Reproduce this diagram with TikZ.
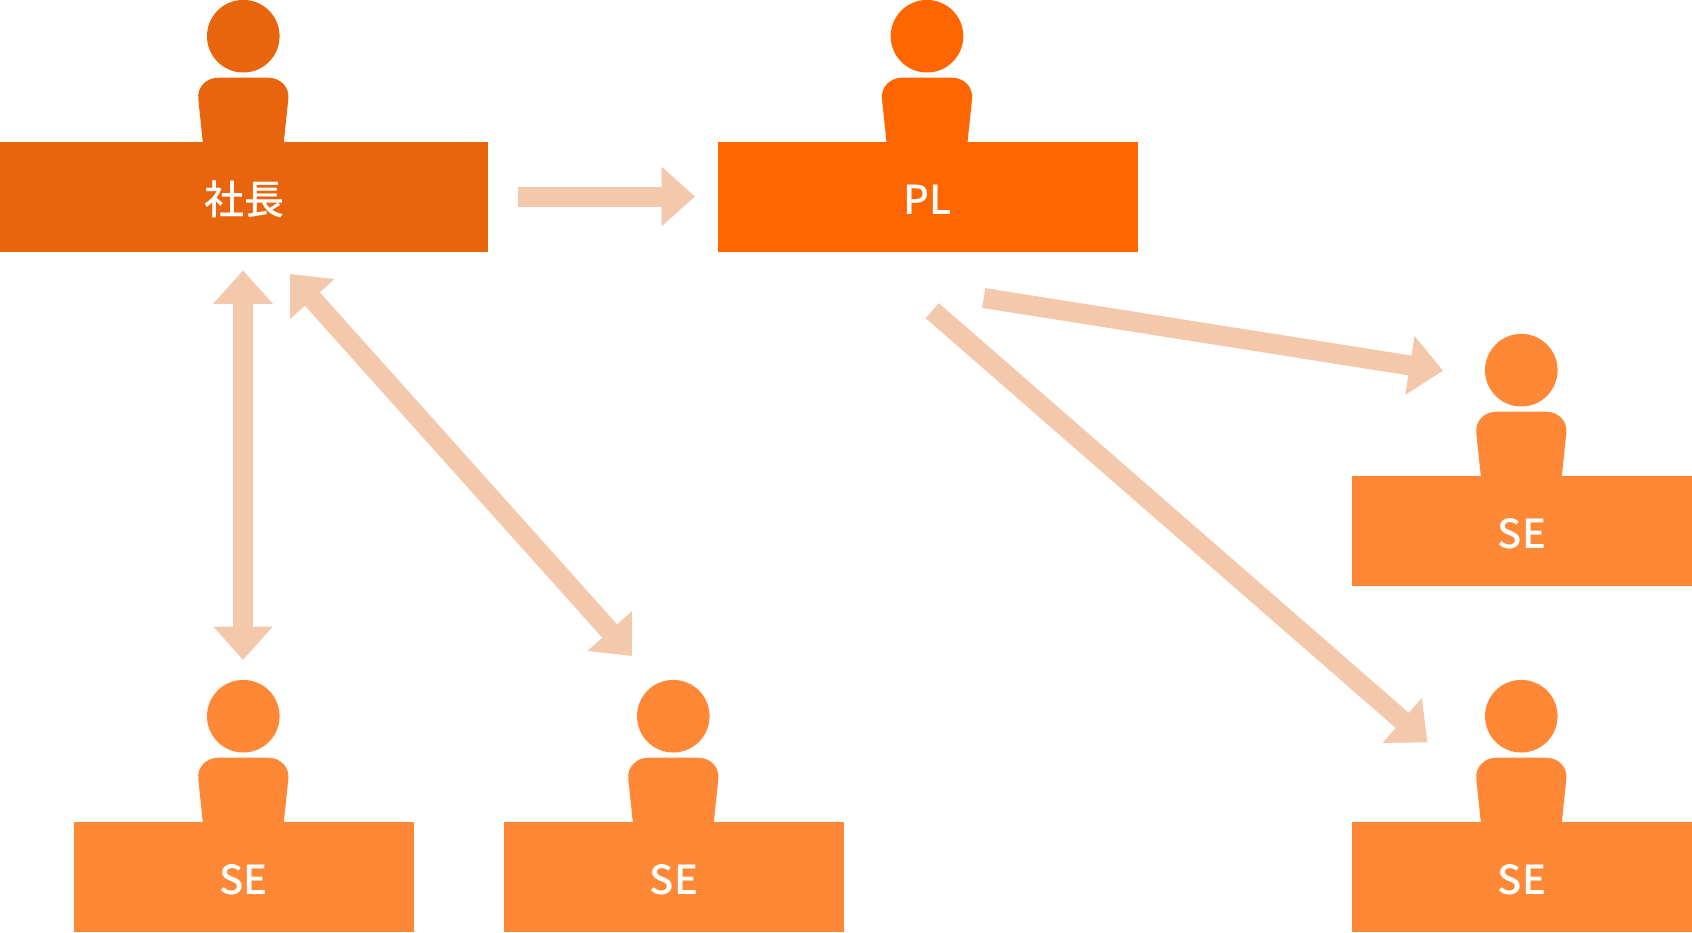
\documentclass[tikz,border=0pt]{standalone}
\usepackage{fontspec}
\setmainfont{Noto Sans CJK JP}[UprightFont=* Medium]
\usetikzlibrary{arrows.meta}
\definecolor{presc}{HTML}{E8650E}
\definecolor{plc}{HTML}{FF6600}
\definecolor{sec}{HTML}{FF8837}
\definecolor{arrc}{HTML}{F4C9AB}
\tikzset{
  x=1pt,y=-1pt,
  head/.style={circle,inner sep=0pt,minimum size=72.6pt,fill=#1},
  desk/.style={rectangle,inner sep=0pt,minimum height=109.8pt,fill=#1,text=white,
    font=\fontsize{40}{48}\selectfont},
  link/.style={draw=arrc,line width=20pt,-{Triangle[length=33.5pt,width=57.5pt]}},
  duplex/.style={draw=arrc,line width=20pt,{Triangle[length=33.5pt,width=57.5pt]}-{Triangle[length=33.5pt,width=57.5pt]}},
}
% #1 name, #2 x of figure centre, #3 head centre y, #4 colour
\newcommand{\figperson}[4]{%
  \node[head=#4] (#1head) at (#2,#3) {};
  \fill[#4,shift={(#2,#3)}] (-40.3,108) -- (-45,63)
    .. controls (-46.5,51) and (-37,41.5) .. (-25,41.5) -- (25,41.5)
    .. controls (37,41.5) and (46.5,51) .. (45,63) -- (40.3,108) -- cycle;
}
\newcommand{\rsb}[1]{\raisebox{-17pt}[0pt][0pt]{#1}}
\begin{document}
\begin{tikzpicture}
\useasboundingbox (0,0) rectangle (1692,932);
\figperson{pres}{243.3}{36.2}{presc}
\figperson{pl}{927}{36.2}{plc}
\figperson{sea}{1521.3}{370.2}{sec}
\figperson{seb}{243.3}{716.2}{sec}
\figperson{sec}{673.3}{716.2}{sec}
\figperson{sed}{1521.3}{716.2}{sec}
\node[desk=presc,minimum width=488pt] (presbox) at (244,197) {\rsb{社長}};
\node[desk=plc,minimum width=420pt] (plbox) at (928,197) {\rsb{PL}};
\node[desk=sec,minimum width=340pt] (seabox) at (1522,531) {\rsb{SE}};
\node[desk=sec,minimum width=340pt] (sebbox) at (243.5,877.3) {\rsb{SE}};
\node[desk=sec,minimum width=340pt] (secbox) at (674,877.3) {\rsb{SE}};
\node[desk=sec,minimum width=340pt] (sedbox) at (1522,877.3) {\rsb{SE}};
\coordinate (a1) at (517.5,196.5);
\coordinate (a2) at (695,196.5);
\coordinate (b1) at (243,270.3);
\coordinate (b2) at (243,660);
\coordinate (c1) at (290,274);
\coordinate (c2) at (632,656);
\coordinate (d1) at (983.7,298);
\coordinate (d2) at (1443,370.7);
\coordinate (e1) at (932.3,310.7);
\coordinate (e2) at (1427.5,742.4);
\draw[link] (a1) -- (a2);
\draw[duplex] (b1) -- (b2);
\draw[duplex] (c1) -- (c2);
\draw[link] (d1) -- (d2);
\draw[link] (e1) -- (e2);
\end{tikzpicture}
\end{document}
